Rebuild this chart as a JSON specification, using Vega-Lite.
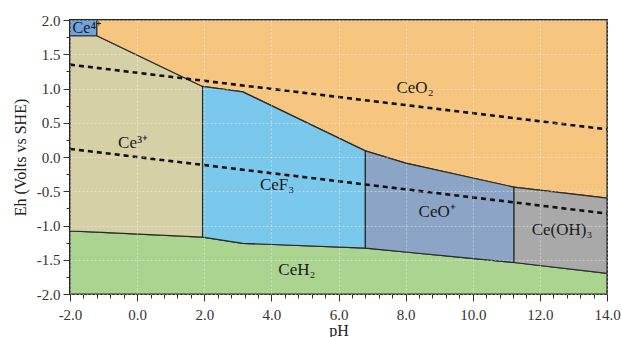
{
  "$schema": "https://vega.github.io/schema/vega-lite/v6.json",
  "width": 537,
  "height": 274,
  "autosize": {"type": "none"},
  "padding": {"left": 70, "top": 20, "right": 15, "bottom": 43},
  "background": "white",
  "config": {
    "view": {"stroke": "#222222", "strokeWidth": 2},
    "axis": {"labelFont": "Liberation Serif", "titleFont": "Liberation Serif", "labelColor": "#333333", "titleColor": "#222222", "domainColor": "#333333", "tickColor": "#333333", "titleFontWeight": "normal"}
  },
  "resolve": {"axis": {"x": "independent", "y": "independent"}},
  "layer": [
    {
      "data": {"values": [
        {"region": "CeH2", "pH": -2, "lo": -2, "hi": -1.08},
        {"region": "CeH2", "pH": 1.95, "lo": -2, "hi": -1.17},
        {"region": "CeH2", "pH": 3.15, "lo": -2, "hi": -1.26},
        {"region": "CeH2", "pH": 6.8, "lo": -2, "hi": -1.33},
        {"region": "CeH2", "pH": 11.23, "lo": -2, "hi": -1.54},
        {"region": "CeH2", "pH": 14, "lo": -2, "hi": -1.70},
        {"region": "Ce3+", "pH": -2, "lo": -1.08, "hi": 1.77},
        {"region": "Ce3+", "pH": -1.2, "lo": -1.098, "hi": 1.77},
        {"region": "Ce3+", "pH": 1.95, "lo": -1.17, "hi": 1.03},
        {"region": "Ce4+", "pH": -2, "lo": 1.77, "hi": 2},
        {"region": "Ce4+", "pH": -1.2, "lo": 1.77, "hi": 2},
        {"region": "CeO2", "pH": -1.2, "lo": 1.77, "hi": 2},
        {"region": "CeO2", "pH": 1.95, "lo": 1.03, "hi": 2},
        {"region": "CeO2", "pH": 3.15, "lo": 0.95, "hi": 2},
        {"region": "CeO2", "pH": 6.8, "lo": 0.09, "hi": 2},
        {"region": "CeO2", "pH": 8.0, "lo": -0.09, "hi": 2},
        {"region": "CeO2", "pH": 11.23, "lo": -0.44, "hi": 2},
        {"region": "CeO2", "pH": 14, "lo": -0.60, "hi": 2},
        {"region": "CeF3", "pH": 1.95, "lo": -1.17, "hi": 1.03},
        {"region": "CeF3", "pH": 3.15, "lo": -1.26, "hi": 0.95},
        {"region": "CeF3", "pH": 6.8, "lo": -1.33, "hi": 0.09},
        {"region": "CeO+", "pH": 6.8, "lo": -1.33, "hi": 0.09},
        {"region": "CeO+", "pH": 8.0, "lo": -1.387, "hi": -0.09},
        {"region": "CeO+", "pH": 11.23, "lo": -1.54, "hi": -0.44},
        {"region": "Ce(OH)3", "pH": 11.23, "lo": -1.54, "hi": -0.44},
        {"region": "Ce(OH)3", "pH": 14, "lo": -1.70, "hi": -0.60}
      ]},
      "mark": {"type": "area", "stroke": "#2b2b2b", "strokeWidth": 1.2, "fillOpacity": 1},
      "encoding": {
        "x": {"field": "pH", "type": "quantitative", "scale": {"domain": [-2, 14], "nice": false},
              "axis": {"orient": "bottom", "title": "pH", "values": [-2, 0, 2, 4, 6, 8, 10, 12, 14],
                       "labelExpr": "replace(format(datum.value, '.1f'), '\u2212', '-')",
                       "labelFontSize": 15, "titleFontSize": 16, "tickSize": 7, "labelPadding": 6, "titlePadding": 0,
                       "grid": true, "gridColor": "#ffffff", "gridOpacity": 0.4, "gridDash": [2, 2], "zindex": 1, "domain": false, "labelFlush": false}},
        "y": {"field": "lo", "type": "quantitative", "scale": {"domain": [-2, 2], "nice": false},
              "axis": {"orient": "left", "title": "Eh (Volts vs SHE)", "values": [-2, -1.5, -1, -0.5, 0, 0.5, 1, 1.5, 2],
                       "labelExpr": "replace(format(datum.value, '.1f'), '\u2212', '-')",
                       "labelFontSize": 15, "titleFontSize": 16, "tickSize": 7, "labelPadding": 3, "titlePadding": 8,
                       "grid": true, "gridColor": "#ffffff", "gridOpacity": 0.4, "gridDash": [2, 2], "zindex": 1, "domain": false}},
        "y2": {"field": "hi"},
        "color": {"field": "region", "type": "nominal", "legend": null,
                  "scale": {"domain": ["CeH2", "Ce3+", "Ce4+", "CeO2", "CeF3", "CeO+", "Ce(OH)3"],
                            "range": ["#aad48f", "#d6d0a6", "#6fa3dc", "#f6c57f", "#7ac8ec", "#8ca5c6", "#a9a9aa"]}}
      }
    },
    {
      "data": {"values": [
        {"line": "O2", "pH": -2, "Eh": 1.348},
        {"line": "O2", "pH": 14, "Eh": 0.404},
        {"line": "H2", "pH": -2, "Eh": 0.118},
        {"line": "H2", "pH": 14, "Eh": -0.826}
      ]},
      "mark": {"type": "line", "color": "#111111", "strokeWidth": 2.6, "strokeDash": [5, 4]},
      "encoding": {
        "x": {"field": "pH", "type": "quantitative",
              "axis": {"orient": "bottom", "title": null, "labels": false, "grid": false, "domain": false, "tickSize": 4,
                       "values": [-1.6, -1.2, -0.8, -0.4, 0.4, 0.8, 1.2, 1.6, 2.4, 2.8, 3.2, 3.6, 4.4, 4.8, 5.2, 5.6, 6.4, 6.8, 7.2, 7.6, 8.4, 8.8, 9.2, 9.6, 10.4, 10.8, 11.2, 11.6, 12.4, 12.8, 13.2, 13.6]}},
        "y": {"field": "Eh", "type": "quantitative",
              "axis": {"orient": "left", "title": null, "labels": false, "grid": false, "domain": false, "tickSize": 4,
                       "values": [-1.75, -1.25, -0.75, -0.25, 0.25, 0.75, 1.25, 1.75]}},
        "detail": {"field": "line"}
      }
    },
    {
      "data": {"values": [
        {"label": "Ce⁴⁺", "pH": -1.5, "Eh": 1.89, "size": 16},
        {"label": "Ce³⁺", "pH": -0.12, "Eh": 0.21, "size": 17},
        {"label": "CeO₂", "pH": 8.28, "Eh": 1.01, "size": 17},
        {"label": "CeF₃", "pH": 4.17, "Eh": -0.41, "size": 17},
        {"label": "CeO⁺", "pH": 8.94, "Eh": -0.80, "size": 17},
        {"label": "Ce(OH)₃", "pH": 12.66, "Eh": -1.07, "size": 17},
        {"label": "CeH₂", "pH": 4.76, "Eh": -1.65, "size": 17}
      ]},
      "mark": {"type": "text", "font": "Liberation Serif", "color": "#1a1a1a", "align": "center", "baseline": "middle"},
      "encoding": {
        "x": {"field": "pH", "type": "quantitative", "axis": null},
        "y": {"field": "Eh", "type": "quantitative", "axis": null},
        "text": {"field": "label"},
        "size": {"field": "size", "type": "quantitative", "scale": null, "legend": null}
      }
    }
  ]
}
